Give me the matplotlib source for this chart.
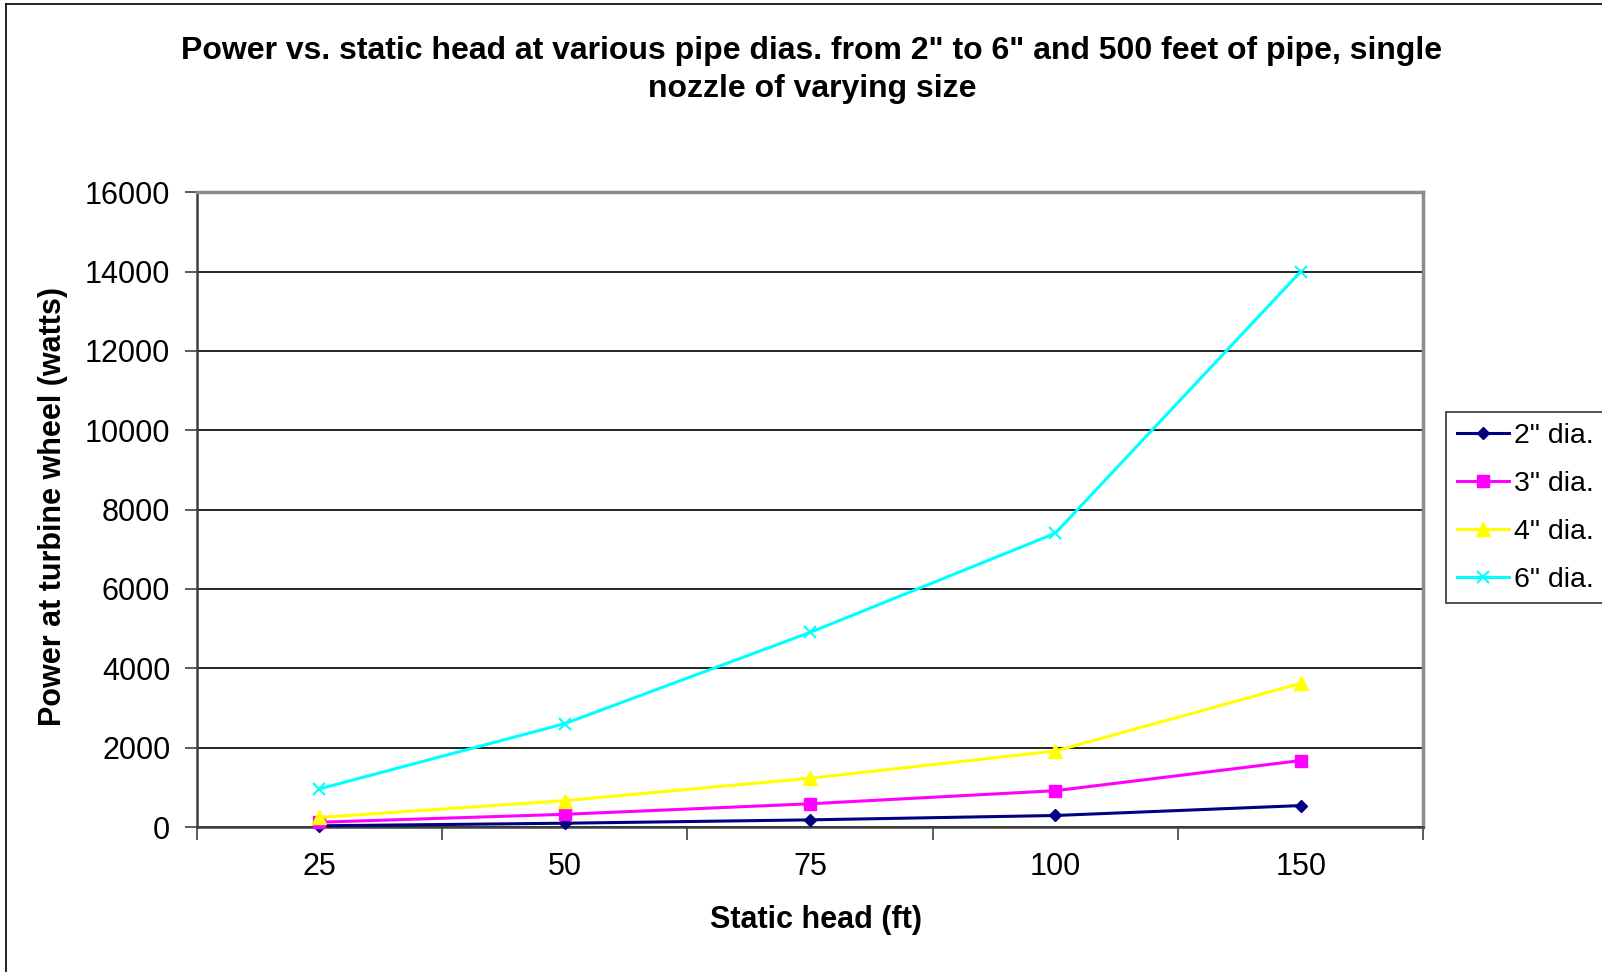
"""Power vs static head chart, Excel-style line chart."""

import matplotlib

matplotlib.use("Agg")
import matplotlib.pyplot as plt
from matplotlib.lines import Line2D

plt.rcParams["font.family"] = ["Liberation Sans", "DejaVu Sans"]

head_labels = ["25", "50", "75", "100", "150"]
dia_2 = [30, 95, 180, 290, 540]
dia_3 = [120, 320, 585, 915, 1675]
dia_4 = [240, 665, 1230, 1915, 3620]
dia_6 = [960, 2605, 4905, 7405, 14000]

series = [
    ('2" dia.', dia_2, "#000080", "D", 6.5),
    ('3" dia.', dia_3, "#ff00ff", "s", 8.5),
    ('4" dia.', dia_4, "#ffff00", "^", 9.5),
    ('6" dia.', dia_6, "#00ffff", "x", 9),
]

W, H = 1602, 972
fig = plt.figure(figsize=(W / 100, H / 100), dpi=100)

# outer chart border (right and bottom are cut off in the original)
fig.add_artist(Line2D([6 / W, 6 / W], [0, 1 - 4 / H], color="black", lw=1.2))
fig.add_artist(Line2D([6 / W, 1], [1 - 4 / H, 1 - 4 / H], color="black", lw=1.2))

left, right = 196.7 / W, 1423.3 / W
bottom, top = 1 - 827 / H, 1 - 192.3 / H
ax = fig.add_axes([left, bottom, right - left, top - bottom])

xs = list(range(len(head_labels)))
for label, values, colour, marker, ms in series:
    ax.plot(
        xs,
        values,
        color=colour,
        lw=2.2,
        marker=marker,
        markersize=ms,
        markeredgewidth=1.5 if marker == "x" else 1,
        markerfacecolor=colour,
        markeredgecolor=colour,
        label=label,
        clip_on=False,
        zorder=3,
    )

ax.set_xlim(-0.5, len(head_labels) - 0.5)
ax.set_ylim(0, 16000)
ax.set_yticks(range(0, 16001, 2000))
ax.set_xticks(xs)
ax.set_xticklabels(head_labels)
ax.set_xticks([i - 0.5 for i in range(len(head_labels) + 1)], minor=True)
ax.tick_params(axis="x", which="major", length=0, pad=18, labelsize=22)
ax.tick_params(axis="x", which="minor", length=9, width=1.2, color="#404040", direction="out")
ax.tick_params(axis="y", length=9, width=1.2, color="#404040", direction="out", pad=10, labelsize=22)

ax.grid(axis="y", color="black", lw=1.2)
ax.set_axisbelow(True)
for side in ("top", "right"):
    ax.spines[side].set_color("#8c8c8c")
    ax.spines[side].set_linewidth(2.5)
for side in ("left", "bottom"):
    ax.spines[side].set_color("#404040")
    ax.spines[side].set_linewidth(1.8)

fig.text(
    812 / W,
    1 - 70 / H,
    'Power vs. static head at various pipe dias. from 2" to 6" and 500 feet of pipe, single\nnozzle of varying size',
    ha="center",
    va="center",
    fontsize=23,
    weight="bold",
    linespacing=1.34,
)
fig.text(53 / W, 1 - 507 / H, "Power at turbine wheel (watts)", rotation=90,
         ha="center", va="center", fontsize=22, weight="bold")
fig.text(816 / W, 1 - 920 / H, "Static head (ft)", ha="center", va="center",
         fontsize=22, weight="bold")

leg = fig.legend(
    loc="upper left",
    bbox_to_anchor=(1446 / W, 1 - 412 / H),
    bbox_transform=fig.transFigure,
    fontsize=20.5,
    frameon=True,
    fancybox=False,
    edgecolor="black",
    borderaxespad=0,
    handlelength=1.85,
    handletextpad=0.15,
    labelspacing=0.77,
    borderpad=0.38,
)
leg.get_frame().set_linewidth(1.2)

fig.savefig("out.png", dpi=100)
